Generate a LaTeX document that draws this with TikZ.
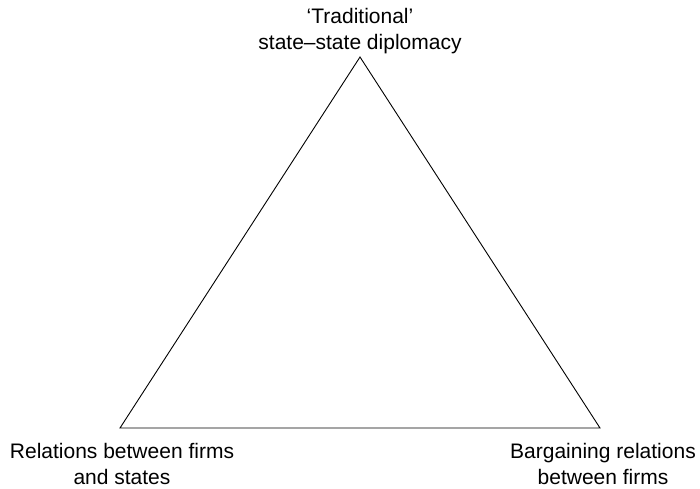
\documentclass[tikz,border=0pt]{standalone}
\usepackage{fontspec}
\setmainfont{Liberation Sans}
\begin{document}
\begin{tikzpicture}[x=1pt,y=-1pt,
  lbl/.style={align=center,inner sep=0pt,font=\fontsize{21}{26}\selectfont},
  edge/.style={line width=0.9pt,line join=miter}]
\useasboundingbox (0,0) rectangle (700,488);
\coordinate (A) at (360,57);
\coordinate (B) at (120,428);
\coordinate (C) at (600,428);
\draw[edge] (A) -- (B) -- (C) -- cycle;
\node[lbl] (top) at (360,31.5) {‘Traditional’\\state–state diplomacy};
\node[lbl] (bl) at (122,464) {Relations between firms\\and states};
\node[lbl] (br) at (603,464) {Bargaining relations\\between firms};
\end{tikzpicture}
\end{document}
